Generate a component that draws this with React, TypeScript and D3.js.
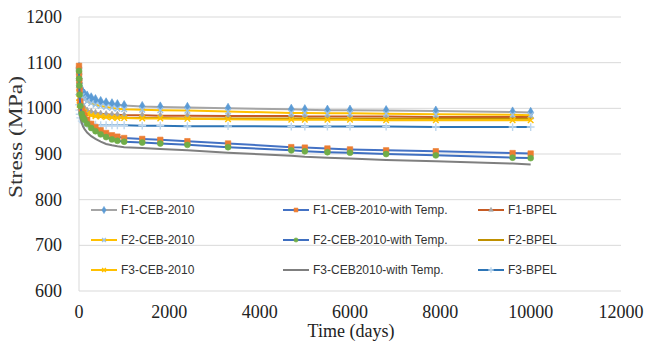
import React from "react";
import * as d3 from "d3";

const days = [0, 3, 7, 14, 28, 60, 90, 120, 180, 270, 365, 480, 600, 730, 850, 1000, 1400, 1800, 2400, 3300, 4700, 5000, 5500, 6000, 6800, 7900, 9600, 10000];

const f1Ceb = [1090, 1075, 1065, 1055, 1046, 1038, 1034, 1031, 1027, 1023, 1019, 1015, 1012, 1010, 1008, 1006, 1004, 1003, 1002, 1000, 998, 997, 996, 996, 995, 994, 992, 991];
const f1Temp = [1093, 1075, 1060, 1040, 1015, 998, 990, 984, 975, 966, 959, 952, 946, 941, 938, 935, 933, 931, 928, 923, 915, 914, 912, 910, 908, 906, 902, 901];
const f1Bpel = [1090, 1065, 1050, 1035, 1022, 1010, 1004, 1000, 995, 992, 990, 988, 987, 986, 986, 985, 985, 984, 984, 983, 983, 982, 982, 982, 982, 981, 981, 981];
const f2Ceb = [1080, 1062, 1050, 1042, 1034, 1027, 1022, 1019, 1015, 1011, 1008, 1005, 1003, 1001, 999, 998, 997, 996, 995, 993, 990, 990, 989, 989, 988, 987, 986, 985];
const f2Temp = [1082, 1065, 1050, 1030, 1005, 988, 980, 975, 966, 957, 950, 943, 937, 932, 929, 927, 925, 923, 920, 915, 908, 906, 904, 903, 900, 897, 892, 891];
const f2Bpel = [1075, 1048, 1033, 1020, 1007, 997, 992, 989, 986, 984, 982, 981, 980, 980, 980, 979, 979, 979, 978, 978, 978, 978, 977, 977, 977, 977, 977, 977];
const f3Ceb = [1035, 1022, 1014, 1008, 1002, 996, 993, 991, 988, 985, 983, 982, 981, 980, 979, 979, 978, 978, 977, 976, 975, 975, 975, 975, 974, 974, 974, 974];
const f3Temp = [1040, 1020, 1005, 992, 980, 968, 960, 955, 947, 939, 933, 927, 922, 919, 917, 915, 913, 911, 908, 903, 896, 894, 892, 890, 887, 884, 879, 877];
const f3Bpel = [1030, 1008, 996, 987, 979, 972, 969, 967, 965, 964, 964, 963, 963, 963, 963, 963, 962, 962, 961, 961, 960, 960, 960, 960, 960, 959, 959, 959];

const xTicks = [0, 2000, 4000, 6000, 8000, 10000, 12000];
const yTicks = [600, 700, 800, 900, 1000, 1100, 1200];

type Series = { name: string; values: number[]; line: string; marker: string; shape: string | null; size: number; col: number; row: number };

const series: Series[] = [
  { name: "F1-CEB-2010", values: f1Ceb, line: "#a5a5a5", marker: "#5b9bd5", shape: "diamond", size: 30, col: 0, row: 0 },
  { name: "F1-CEB-2010-with Temp.", values: f1Temp, line: "#4472c4", marker: "#ed7d31", shape: "square", size: 30, col: 1, row: 0 },
  { name: "F1-BPEL", values: f1Bpel, line: "#c65b24", marker: "#a5a5a5", shape: "triangle", size: 18, col: 2, row: 0 },
  { name: "F2-CEB-2010", values: f2Ceb, line: "#ffc000", marker: "#9dc3e6", shape: "times", size: 22, col: 0, row: 1 },
  { name: "F2-CEB-2010-with Temp.", values: f2Temp, line: "#3f6fc0", marker: "#70ad47", shape: "circle", size: 28, col: 1, row: 1 },
  { name: "F2-BPEL", values: f2Bpel, line: "#bf9000", marker: "#bf9000", shape: null, size: 0, col: 2, row: 1 },
  { name: "F3-CEB-2010", values: f3Ceb, line: "#ffc000", marker: "#ffc000", shape: "times", size: 22, col: 0, row: 2 },
  { name: "F3-CEB2010-with Temp.", values: f3Temp, line: "#7f7f7f", marker: "#7f7f7f", shape: null, size: 0, col: 1, row: 2 },
  { name: "F3-BPEL", values: f3Bpel, line: "#2e75b6", marker: "#bdd7ee", shape: "plus", size: 22, col: 2, row: 2 },
];

const drawOrder = [0, 2, 3, 5, 6, 8, 7, 1, 4];

const shapeMap: Record<string, d3.SymbolType> = {
  diamond: d3.symbolDiamond,
  square: d3.symbolSquare,
  triangle: d3.symbolTriangle,
  circle: d3.symbolCircle,
  times: d3.symbolTimes,
  plus: d3.symbolPlus,
};

const isStroke = (s: string) => s === "times" || s === "plus";

const left = 79, right = 621, top = 17, bottom = 291;

export default function App() {
  const x = d3.scaleLinear().domain([0, 12000]).range([left, right]);
  const y = d3.scaleLinear().domain([600, 1200]).range([bottom, top]);
  const line = d3.line<number>().x((_, i) => x(days[i])).y((v) => y(v));

  const legendCols = [91, 283, 478];
  const legendRows = [210, 240, 270];

  const marker = (s: Series, cx: number, cy: number, key: string | number, scale = 1) => {
    if (!s.shape) return null;
    const p = d3.symbol(shapeMap[s.shape], s.size * scale)() || "";
    const stroke = isStroke(s.shape);
    return (
      <path key={key} d={p} transform={`translate(${cx},${cy})`}
        fill={stroke ? "none" : s.marker} stroke={s.marker} strokeWidth={stroke ? 1.4 : 0.6} />
    );
  };

  return (
    <svg width={645} height={344} style={{ position: "absolute", left: 0, top: 0, background: "#fff" }}>
      <rect x={0} y={0} width={645} height={344} fill="#fff" />
      {yTicks.map((t) => (
        <line key={t} x1={left} x2={right} y1={y(t)} y2={y(t)} stroke="#d9d9d9" strokeWidth={1} />
      ))}
      <line x1={left} x2={left} y1={top} y2={bottom} stroke="#d9d9d9" />
      {yTicks.map((t) => (
        <text key={t} x={62} y={y(t)} textAnchor="end" dominantBaseline="central"
          fontFamily="Liberation Serif" fontSize={18} fill="#222">{t}</text>
      ))}
      {xTicks.map((t) => (
        <text key={t} x={x(t)} y={312} textAnchor="middle" dominantBaseline="central"
          fontFamily="Liberation Serif" fontSize={18} fill="#222">{t}</text>
      ))}
      <text x={351} y={331} textAnchor="middle" dominantBaseline="central"
        fontFamily="Liberation Serif" fontSize={18} fill="#222">Time (days)</text>
      <text transform="translate(15,137) rotate(-90)" textAnchor="middle" dominantBaseline="central"
        fontFamily="Liberation Serif" fontSize={19} fill="#333" textLength={122} lengthAdjust="spacingAndGlyphs">Stress (MPa)</text>

      {drawOrder.map((i) => {
        const s = series[i];
        return (
          <g key={s.name}>
            <path d={line(s.values) || ""} fill="none" stroke={s.line} strokeWidth={2} />
            {s.values.map((v, j) => marker(s, x(days[j]), y(v), j))}
          </g>
        );
      })}

      {series.map((s) => {
        const lx = legendCols[s.col];
        const ly = legendRows[s.row];
        return (
          <g key={"lg" + s.name}>
            <line x1={lx} x2={lx + 26} y1={ly} y2={ly} stroke={s.line} strokeWidth={2} />
            {marker(s, lx + 13, ly, "m", 0.5)}
            <text x={lx + 30} y={ly} dominantBaseline="central" fontFamily="Liberation Sans"
              fontSize={12} fill="#333">{s.name}</text>
          </g>
        );
      })}
    </svg>
  );
}
